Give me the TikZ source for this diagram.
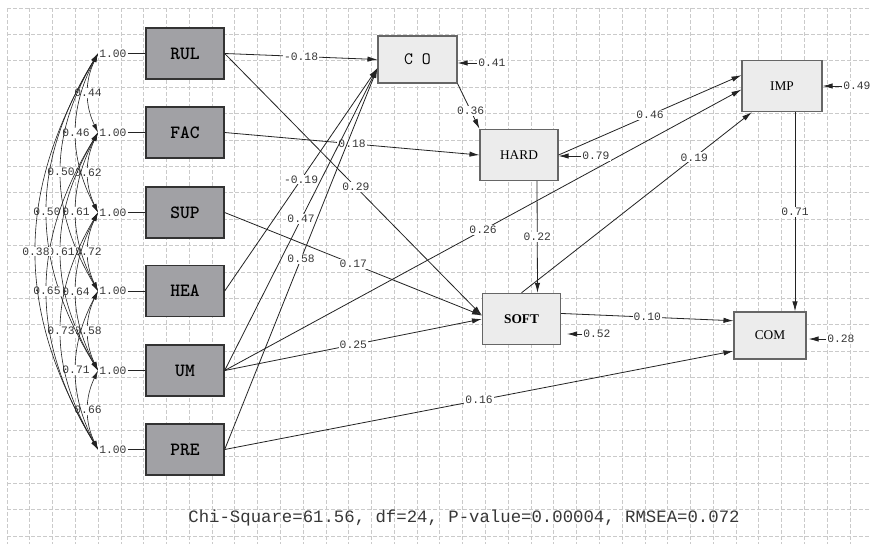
\documentclass[tikz,border=0pt]{standalone}
\usepackage{fontspec}
\usetikzlibrary{arrows.meta}
\newfontfamily\monofont{Liberation Mono}
\newfontfamily\boxserif{Liberation Serif}
\newcommand{\coeffont}{\monofont\fontsize{8.5pt}{9pt}\selectfont}
\newcommand{\exofont}{\ttfamily\bfseries\fontsize{14pt}{15pt}\selectfont}
\newcommand{\latfont}{\boxserif\fontsize{10pt}{11pt}\selectfont}
\newcommand{\footfont}{\monofont\fontsize{13pt}{14pt}\selectfont}
\definecolor{gridgray}{RGB}{202,202,202}
\definecolor{exofill}{RGB}{161,161,165}
\definecolor{latfill}{RGB}{236,236,236}
\definecolor{coefgray}{RGB}{55,55,55}
\definecolor{linegray}{RGB}{35,35,35}
\tikzset{
    gridline/.style = {gridgray, line width=0.5pt, dash pattern=on 3pt off 1.5pt},
    exo/.style = {draw=black!80, line width=1pt, fill=exofill, font=\exofont,
        minimum width=58.5pt, minimum height=38.25pt, inner sep=0pt},
    lat/.style = {draw=black!60, line width=0.8pt, fill=latfill, font=\latfont,
        minimum width=58.5pt, minimum height=38.5pt, inner sep=0pt},
    coef/.style = {font=\coeffont, text=coefgray, fill=white, inner sep=0.8pt},
    effect/.style = {linegray, line width=0.6pt, -{Latex[length=7.5pt, width=4pt]}},
    cov/.style = {linegray, line width=0.45pt,
        {Latex[length=6.5pt, width=3.5pt]}-{Latex[length=6.5pt, width=3.5pt]}}
}
\begin{document}
\begin{tikzpicture}[x=0.75pt, y=-0.75pt]
        \fill[white] (0,0) rectangle (871,544);
        \useasboundingbox (0,0) rectangle (871,544);
        \foreach \i in {0,...,37} {
            \draw[gridline] ({7+22.78*\i},8) -- ({7+22.78*\i},544);
        }
        \foreach \j in {0,...,20} {
            \draw[gridline] (7,{8+26.4*\j}) -- (871,{8+26.4*\j});
        }
        \node[exo] (RUL) at (185,53.5) {RUL};
        \node[exo] (FAC) at (185,132.5) {FAC};
        \node[exo] (SUP) at (185,212.5) {SUP};
        \node[exo] (HEA) at (185,291) {HEA};
        \node[exo] (UM) at (185,370.5) {UM};
        \node[exo] (PRE) at (185,449.5) {PRE};
        \node[lat, minimum width=59.25pt, minimum height=35.25pt,
            font=\ttfamily\fontsize{13pt}{14pt}\selectfont] (CO) at (417.5,59.5) {C O};
        \node[lat] (HARD) at (519,155) {HARD};
        \node[lat, minimum width=60pt] (IMP) at (782,86) {IMP};
        \node[lat, font=\latfont\bfseries] (SOFT) at (521.5,319) {SOFT};
        \node[lat, minimum width=54pt, minimum height=35.25pt] (COM) at (770,335.5) {COM};
        \node[coef, anchor=west] (vRUL) at (98,53.5) {1.00};
        \node[coef, anchor=west] (vFAC) at (98,132.5) {1.00};
        \node[coef, anchor=west] (vSUP) at (98,212.5) {1.00};
        \node[coef, anchor=west] (vHEA) at (98,291) {1.00};
        \node[coef, anchor=west] (vUM) at (98,370.5) {1.00};
        \node[coef, anchor=west] (vPRE) at (98,449.5) {1.00};
        \draw[linegray, line width=0.6pt] (vRUL) -- (RUL);
        \draw[linegray, line width=0.6pt] (vFAC) -- (FAC);
        \draw[linegray, line width=0.6pt] (vSUP) -- (SUP);
        \draw[linegray, line width=0.6pt] (vHEA) -- (HEA);
        \draw[linegray, line width=0.6pt] (vUM) -- (UM);
        \draw[linegray, line width=0.6pt] (vPRE) -- (PRE);
        \draw[cov] (vRUL.west) .. controls (84.7,81.2) and (84.7,104.8) .. (vFAC.west) node[coef, pos=.5] {0.44};
        \draw[cov] (vFAC.west) .. controls (84.7,160.5) and (84.7,184.5) .. (vSUP.west) node[coef, pos=.5] {0.62};
        \draw[cov] (vSUP.west) .. controls (84.7,240) and (84.7,263.5) .. (vHEA.west) node[coef, pos=.5] {0.72};
        \draw[cov] (vHEA.west) .. controls (84.7,318.8) and (84.7,342.7) .. (vUM.west) node[coef, pos=.5] {0.58};
        \draw[cov] (vUM.west) .. controls (84.7,398.2) and (84.7,421.8) .. (vPRE.west) node[coef, pos=.5] {0.66};
        \draw[cov] (vRUL.west) .. controls (68.7,109.2) and (68.7,156.8) .. (vSUP.west) node[coef, pos=.5] {0.46};
        \draw[cov] (vFAC.west) .. controls (68.7,188) and (68.7,235.5) .. (vHEA.west) node[coef, pos=.5] {0.61};
        \draw[cov] (vSUP.west) .. controls (68.7,267.8) and (68.7,315.2) .. (vUM.west) node[coef, pos=.5] {0.64};
        \draw[cov] (vHEA.west) .. controls (68.7,346.5) and (68.7,394) .. (vPRE.west) node[coef, pos=.5] {0.71};
        \draw[cov] (vRUL.west) .. controls (48.7,136.5) and (48.7,208) .. (vHEA.west) node[coef, pos=.5] {0.50};
        \draw[cov] (vFAC.west) .. controls (48.7,215.8) and (48.7,287.2) .. (vUM.west) node[coef, pos=.5] {0.61};
        \draw[cov] (vSUP.west) .. controls (48.7,295.5) and (48.7,366.5) .. (vPRE.west) node[coef, pos=.5] {0.73};
        \draw[cov] (vRUL.west) .. controls (30,164.5) and (30,259.5) .. (vUM.west) node[coef, pos=.5] {0.50};
        \draw[cov] (vFAC.west) .. controls (30,243.5) and (30,338.5) .. (vPRE.west) node[coef, pos=.5] {0.65};
        \draw[cov] (vRUL.west) .. controls (15.3,192.1) and (15.3,310.9) .. (vPRE.west) node[coef, pos=.5] {0.38};
        \draw[effect] (RUL.east) -- node[coef] {-0.18} (CO.west);
        \draw[effect] (RUL.east) -- node[coef, pos=.51] {0.29} (SOFT.175);
        \draw[effect] (FAC.east) -- node[coef] {0.18} (HARD.west);
        \draw[effect] (SUP.east) -- node[coef] {0.17} (SOFT.175);
        \draw[effect] (HEA.east) -- node[coef] {-0.19} (CO.192);
        \draw[effect] (UM.east) -- node[coef] {0.47} (CO.192);
        \draw[effect] (PRE.east) -- node[coef] {0.58} (CO.192);
        \draw[effect] (UM.east) -- node[coef] {0.26} (IMP.185);
        \draw[effect] (UM.east) -- node[coef] {0.25} (SOFT.west);
        \draw[effect] (PRE.east) -- node[coef] {0.16} (COM.203);
        \draw[effect] (CO.south east) -- node[coef, pos=.6] {0.36} (HARD.north west);
        \draw[effect] (HARD.east) -- node[coef] {0.46} (IMP.165);
        \draw[effect] ([xshift=13.5pt]HARD.south) -- node[coef] {0.22} ([xshift=12pt]SOFT.north);
        \draw[effect] (SOFT.north) -- node[coef, pos=.75] {0.19} (IMP.221);
        \draw[effect] ([xshift=9.75pt]IMP.south) -- node[coef] {0.71} ([xshift=18.75pt]COM.north);
        \draw[effect] (SOFT.8) -- node[coef] {0.10} (COM.158);
        \node[coef, anchor=west] (eCO) at (477,63) {0.41};
        \node[coef, anchor=west] (eHARD) at (581,156) {0.79};
        \node[coef, anchor=west] (eIMP) at (842,86) {0.49};
        \node[coef, anchor=west] (eSOFT) at (582,334) {0.52};
        \node[coef, anchor=west] (eCOM) at (826,339) {0.28};
        \draw[effect] (eCO.west) -- (eCO.west -| CO.east);
        \draw[effect] (eHARD.west) -- (eHARD.west -| HARD.east);
        \draw[effect] (eIMP.west) -- (eIMP.west -| IMP.east);
        \draw[effect, shorten >=4.5pt] (eSOFT.west) -- (eSOFT.west -| SOFT.east);
        \draw[effect, shorten >=1.5pt] (eCOM.west) -- (eCOM.west -| COM.east);
        \node[font=\footfont, text=coefgray] (fit) at (464,518) {Chi-Square=61.56, df=24, P-value=0.00004, RMSEA=0.072};
    \end{tikzpicture}
\end{document}
